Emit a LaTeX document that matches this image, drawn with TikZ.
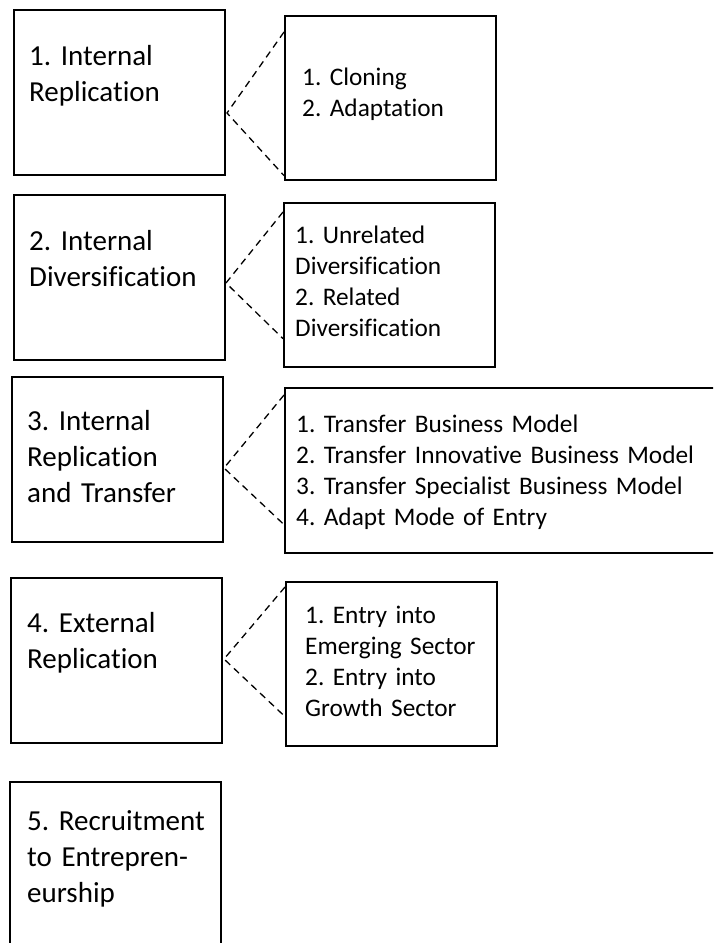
\documentclass[tikz,border=0pt]{standalone}
\usepackage{fontspec}
\setmainfont{Carlito}[Ligatures=NoCommon]
\usepackage{tikz}
\frenchspacing
\tikzstyle{box}=[rectangle,draw=black,line width=1.6pt,anchor=north west,
  inner sep=0pt,minimum width=211pt,minimum height=165pt]
\tikzstyle{ltxt}=[anchor=base west,inner sep=0pt,text width=200pt,align=left,
  font=\fontsize{29}{36}\selectfont]
\tikzstyle{rtxt}=[anchor=base west,inner sep=0pt,text width=420pt,align=left,
  font=\fontsize{25.3}{31}\selectfont]
\tikzstyle{link}=[draw=black,line width=1.3pt,dash pattern=on 7pt off 5pt]

\begin{document}
\begin{tikzpicture}[x=1pt,y=-1pt]
    \useasboundingbox (0,0) rectangle (713,943);
    \clip (0,0) rectangle (713,943);
    % left column
    \node [style=box] (b1) at (13,9) {};
    \node [style=box] (b2) at (13,194) {};
    \node [style=box] (b3) at (11,376) {};
    \node [style=box] (b4) at (10,577) {};
    \node [style=box,minimum height=180pt] (b5) at (9,781) {};
    \node [style=ltxt] (t1) at (29,65) {1. Internal\\Replication};
    \node [style=ltxt] (t2) at (29,250) {2. Internal\\Diversification};
    \node [style=ltxt] (t3) at (27,430) {3. Internal\\Replication\\and Transfer};
    \node [style=ltxt] (t4) at (27,632) {4. External\\Replication};
    \node [style=ltxt] (t5) at (27,830) {5. Recruitment\\to Entrepren-\\eurship};
    % right column
    \node [style=box,minimum width=211pt,minimum height=164pt] (r1) at (284,15) {};
    \node [style=box,minimum width=211pt,minimum height=164pt] (r2) at (283,202) {};
    \node [style=box,minimum width=440pt,minimum height=165pt] (r3) at (284,387) {};
    \node [style=box,minimum width=211pt,minimum height=164pt] (r4) at (285,581) {};
    \node [style=rtxt] (s1) at (302,85) {1. Cloning\\2. Adaptation};
    \node [style=rtxt] (s2) at (295,243) {1. Unrelated\\Diversification\\2. Related\\Diversification};
    \node [style=rtxt] (s3) at (296,432) {1. Transfer Business Model\\2. Transfer Innovative Business Model\\3. Transfer Specialist Business Model\\4. Adapt Mode of Entry};
    \node [style=rtxt] (s4) at (305,623) {1. Entry into\\Emerging Sector\\2. Entry into\\Growth Sector};
    % dashed links
    \coordinate (a1) at (227,113);
    \coordinate (a2) at (226,283);
    \coordinate (a3) at (224,468);
    \coordinate (a4) at (224,659);
    \draw [style=link] ([yshift=-17pt]r1.north west) -- (a1) -- ([yshift=5pt]r1.south west);
    \draw [style=link] ([yshift=-10pt]r2.north west) -- (a2) -- ([yshift=29pt]r2.south west);
    \draw [style=link] ([yshift=-8pt]r3.north west) -- (a3) -- ([yshift=29pt]r3.south west);
    \draw [style=link] ([yshift=-6pt]r4.north west) -- (a4) -- ([yshift=30pt]r4.south west);
\end{tikzpicture}
\end{document}
